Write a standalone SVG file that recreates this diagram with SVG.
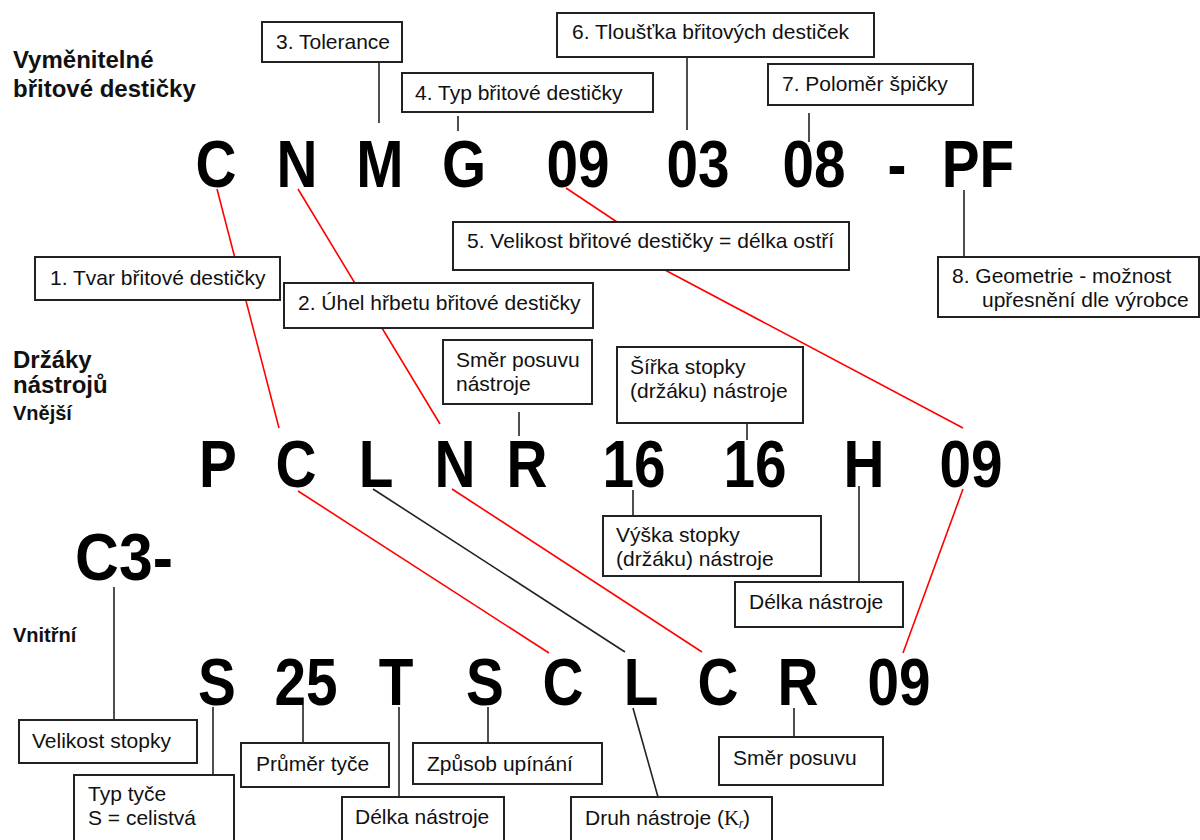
<svg xmlns="http://www.w3.org/2000/svg" width="1200" height="840" viewBox="0 0 1200 840">
<style>
.big{font-family:"Liberation Sans",Arial,sans-serif;font-weight:bold;font-size:66px;text-anchor:middle;fill:#000}
.head{font-family:"Liberation Sans",Arial,sans-serif;font-weight:bold;font-size:24px;fill:#111}
.sub{font-family:"Liberation Sans",Arial,sans-serif;font-weight:bold;font-size:20px;fill:#111}
.lbl{font-family:"Liberation Sans",Arial,sans-serif;font-size:21px;fill:#111}
.box{fill:#fff;stroke:#222;stroke-width:2}
.k{stroke:#222;stroke-width:1.6;fill:none}
.r{stroke:#ff0000;stroke-width:1.6;fill:none}
</style>
<rect width="1200" height="840" fill="#fff"/>

<g id="connectors">
  <line class="k" x1="379" y1="62" x2="379" y2="123"/>
  <line class="k" x1="458" y1="116" x2="458" y2="131"/>
  <line class="k" x1="687" y1="57" x2="687" y2="130"/>
  <line class="k" x1="809" y1="113" x2="809" y2="142"/>
  <line class="k" x1="964" y1="190" x2="964" y2="257"/>
  <line class="r" x1="217" y1="189" x2="279" y2="428"/>
  <line class="r" x1="298" y1="189" x2="440" y2="424"/>
  <line class="r" x1="566" y1="188" x2="617" y2="222"/>
  <line class="r" x1="665" y1="270" x2="963" y2="428"/>
  <line class="k" x1="519" y1="412" x2="519" y2="436"/>
  <line class="k" x1="747" y1="423" x2="747" y2="440"/>
  <line class="k" x1="633" y1="490" x2="633" y2="516"/>
  <line class="k" x1="859" y1="486" x2="859" y2="582"/>
  <line class="r" x1="298" y1="491" x2="549" y2="653"/>
  <line class="k" x1="373" y1="489" x2="625" y2="652"/>
  <line class="r" x1="452" y1="489" x2="702" y2="652"/>
  <line class="r" x1="963" y1="489" x2="903" y2="653"/>
  <line class="k" x1="114" y1="587" x2="114" y2="720"/>
  <line class="k" x1="213" y1="707" x2="213" y2="775"/>
  <line class="k" x1="303" y1="705" x2="303" y2="743"/>
  <line class="k" x1="399" y1="707" x2="399" y2="797"/>
  <line class="k" x1="488" y1="707" x2="488" y2="743"/>
  <line class="k" x1="633" y1="708" x2="658" y2="797"/>
  <line class="k" x1="794" y1="708" x2="794" y2="737"/>
</g>

<g id="headings">
  <text class="head" x="13" y="68">Vyměnitelné</text>
  <text class="head" x="13" y="97">břitové destičky</text>
  <text class="head" x="13" y="368">Držáky</text>
  <text class="head" x="13" y="393">nástrojů</text>
  <text class="sub" x="13" y="420">Vnější</text>
  <text class="sub" x="13" y="642">Vnitřní</text>
</g>

<g id="code-insert">
  <text class="big" transform="translate(216,187) scale(0.86,1)">C</text>
  <text class="big" transform="translate(297,187) scale(0.86,1)">N</text>
  <text class="big" transform="translate(380,187) scale(0.86,1)">M</text>
  <text class="big" transform="translate(464,187) scale(0.86,1)">G</text>
  <text class="big" transform="translate(578,187) scale(0.86,1)">09</text>
  <text class="big" transform="translate(698,187) scale(0.86,1)">03</text>
  <text class="big" transform="translate(814,187) scale(0.86,1)">08</text>
  <text class="big" transform="translate(897,187) scale(0.86,1)">-</text>
  <text class="big" transform="translate(978,187) scale(0.86,1)">PF</text>
</g>

<g id="code-holder-ext">
  <text class="big" transform="translate(218,487) scale(0.86,1)">P</text>
  <text class="big" transform="translate(296,487) scale(0.86,1)">C</text>
  <text class="big" transform="translate(376,487) scale(0.86,1)">L</text>
  <text class="big" transform="translate(455,487) scale(0.86,1)">N</text>
  <text class="big" transform="translate(527,487) scale(0.86,1)">R</text>
  <text class="big" transform="translate(634,487) scale(0.86,1)">16</text>
  <text class="big" transform="translate(755,487) scale(0.86,1)">16</text>
  <text class="big" transform="translate(864,487) scale(0.86,1)">H</text>
  <text class="big" transform="translate(971,487) scale(0.86,1)">09</text>
</g>

<g id="code-holder-int">
  <text class="big" transform="translate(124,580) scale(0.92,1)">C3-</text>
  <text class="big" transform="translate(217,705) scale(0.86,1)">S</text>
  <text class="big" transform="translate(306,705) scale(0.86,1)">25</text>
  <text class="big" transform="translate(396,705) scale(0.86,1)">T</text>
  <text class="big" transform="translate(485,705) scale(0.86,1)">S</text>
  <text class="big" transform="translate(563,705) scale(0.86,1)">C</text>
  <text class="big" transform="translate(641,705) scale(0.86,1)">L</text>
  <text class="big" transform="translate(718,705) scale(0.86,1)">C</text>
  <text class="big" transform="translate(798,705) scale(0.86,1)">R</text>
  <text class="big" transform="translate(899,705) scale(0.86,1)">09</text>
</g>

<g id="n3-tolerance"><rect class="box" x="262" y="22" width="140" height="40"/><text class="lbl" x="276" y="49">3. Tolerance</text></g>
<g id="n4-typ"><rect class="box" x="402" y="73" width="251" height="39"/><text class="lbl" x="415" y="100">4. Typ břitové destičky</text></g>
<g id="n6-tloustka"><rect class="box" x="557" y="13" width="317" height="44"/><text class="lbl" x="572" y="39">6. Tloušťka břitových destiček</text></g>
<g id="n7-polomer"><rect class="box" x="768" y="64" width="205" height="41"/><text class="lbl" x="782" y="91">7. Poloměr špičky</text></g>
<g id="n5-velikost"><rect class="box" x="453" y="222" width="396" height="48"/><text class="lbl" x="467" y="248">5. Velikost břitové destičky = délka ostří</text></g>
<g id="n8-geometrie"><rect class="box" x="938" y="257" width="261" height="60"/><text class="lbl" x="952" y="283">8. Geometrie - možnost</text><text class="lbl" x="982" y="307">upřesnění dle výrobce</text></g>
<g id="n1-tvar"><rect class="box" x="35" y="257" width="245" height="43"/><text class="lbl" x="50" y="285">1. Tvar břitové destičky</text></g>
<g id="n2-uhel"><rect class="box" x="284" y="283" width="309" height="45"/><text class="lbl" x="298" y="310">2. Úhel hřbetu břitové destičky</text></g>
<g id="n-smer-nastroje"><rect class="box" x="443" y="340" width="149" height="64"/><text class="lbl" x="456" y="367">Směr posuvu</text><text class="lbl" x="456" y="391">nástroje</text></g>
<g id="n-sirka"><rect class="box" x="617" y="347" width="186" height="76"/><text class="lbl" x="630" y="374">Šířka stopky</text><text class="lbl" x="630" y="398">(držáku) nástroje</text></g>
<g id="n-vyska"><rect class="box" x="603" y="516" width="218" height="60"/><text class="lbl" x="616" y="542">Výška stopky</text><text class="lbl" x="616" y="566">(držáku) nástroje</text></g>
<g id="n-delka-h"><rect class="box" x="735" y="582" width="168" height="45"/><text class="lbl" x="749" y="609">Délka nástroje</text></g>
<g id="n-velikost-stopky"><rect class="box" x="19" y="720" width="178" height="43"/><text class="lbl" x="32" y="748">Velikost stopky</text></g>
<g id="n-typ-tyce"><rect class="box" x="74" y="775" width="160" height="80"/><text class="lbl" x="88" y="801">Typ tyče</text><text class="lbl" x="88" y="825">S = celistvá</text></g>
<g id="n-prumer"><rect class="box" x="241" y="743" width="148" height="44"/><text class="lbl" x="256" y="771">Průměr tyče</text></g>
<g id="n-delka-t"><rect class="box" x="342" y="797" width="162" height="60"/><text class="lbl" x="355" y="824">Délka nástroje</text></g>
<g id="n-zpusob"><rect class="box" x="413" y="743" width="189" height="41"/><text class="lbl" x="427" y="771">Způsob upínání</text></g>
<g id="n-druh"><rect class="box" x="571" y="797" width="201" height="60"/><text class="lbl" x="585" y="825">Druh nástroje (<tspan font-family="Liberation Serif, serif">K</tspan><tspan font-size="12" font-style="italic" dy="3">r</tspan><tspan dy="-3">)</tspan></text></g>
<g id="n-smer"><rect class="box" x="719" y="737" width="164" height="48"/><text class="lbl" x="733" y="765">Směr posuvu</text></g>
</svg>
